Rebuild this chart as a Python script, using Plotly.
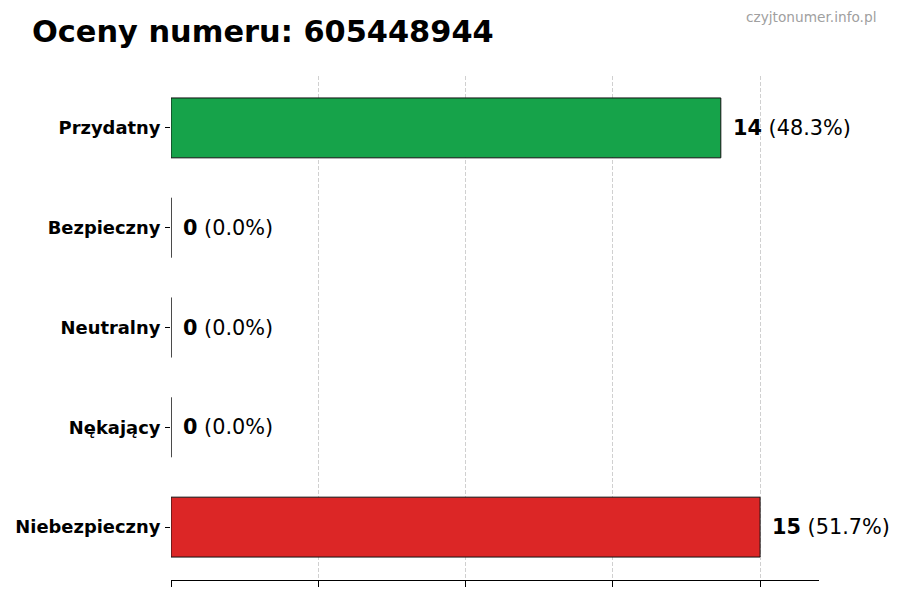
import plotly.graph_objects as go

# ratings for the number, top to bottom
categories = ["Przydatny", "Bezpieczny", "Neutralny", "Nękający", "Niebezpieczny"]
counts = [14, 0, 0, 0, 15]
colors = ["#16a34a", "#16a34a", "#9ca3af", "#f59e0b", "#dc2626"]
grid_ticks = [0, 3.75, 7.5, 11.25, 15]

title = "Oceny numeru: 605448944"
watermark = "czyjtonumer.info.pl"

total = sum(counts)
font = "DejaVu Sans"

fig = go.Figure()
fig.add_trace(go.Bar(
    x=counts,
    y=categories,
    orientation="h",
    width=0.6,
    marker=dict(color=colors, line=dict(color="#111111", width=1)),
    hoverinfo="skip",
))

# value labels next to each bar
for cat, n in zip(categories, counts):
    pct = n / total * 100
    fig.add_annotation(
        x=n, y=cat, xref="x", yref="y",
        text="<b>%d</b> (%.1f%%)" % (n, pct),
        showarrow=False, xanchor="left", yanchor="middle", xshift=10,
        font=dict(family=font, size=20.8, color="#000000"),
    )

# plot area spans roughly x 171..819, y 76..580 on the page
fig.add_annotation(
    x=(30 - 171) / 648, y=(580 - 31) / 504, xref="paper", yref="paper",
    text="<b>%s</b>" % title, showarrow=False,
    xanchor="left", yanchor="middle",
    font=dict(family=font, size=30.4, color="#000000"),
)
fig.add_annotation(
    x=(878 - 171) / 648, y=(580 - 17) / 504, xref="paper", yref="paper",
    text=watermark, showarrow=False,
    xanchor="right", yanchor="middle",
    font=dict(family=font, size=13.7, color="#a0a0a0"),
)

# browser body margin adds 8px on the left/top
fig.update_layout(
    width=900, height=600,
    margin=dict(l=163, r=89, t=68, b=28),
    plot_bgcolor="white", paper_bgcolor="white",
    showlegend=False,
    font=dict(family=font),
)
fig.update_xaxes(
    range=[0, 16.5],
    tickvals=grid_ticks,
    showticklabels=False,
    ticks="outside", ticklen=6, tickcolor="#000000",
    showline=True, linecolor="#000000", linewidth=1,
    showgrid=True, gridcolor="rgba(170,170,170,0.55)", griddash="4px,2px", gridwidth=1,
    zeroline=False,
    layer="above traces",
    automargin=False,
)
fig.update_yaxes(
    categoryorder="array", categoryarray=categories,
    range=[4.53, -0.52],
    ticks="outside", ticklen=5, tickcolor="#000000",
    ticklabelstandoff=1,
    tickfont=dict(family=font, size=17.9, color="#000000", weight="bold"),
    showline=False, showgrid=False, zeroline=False,
    automargin=False,
)

fig.write_html("out.html")
